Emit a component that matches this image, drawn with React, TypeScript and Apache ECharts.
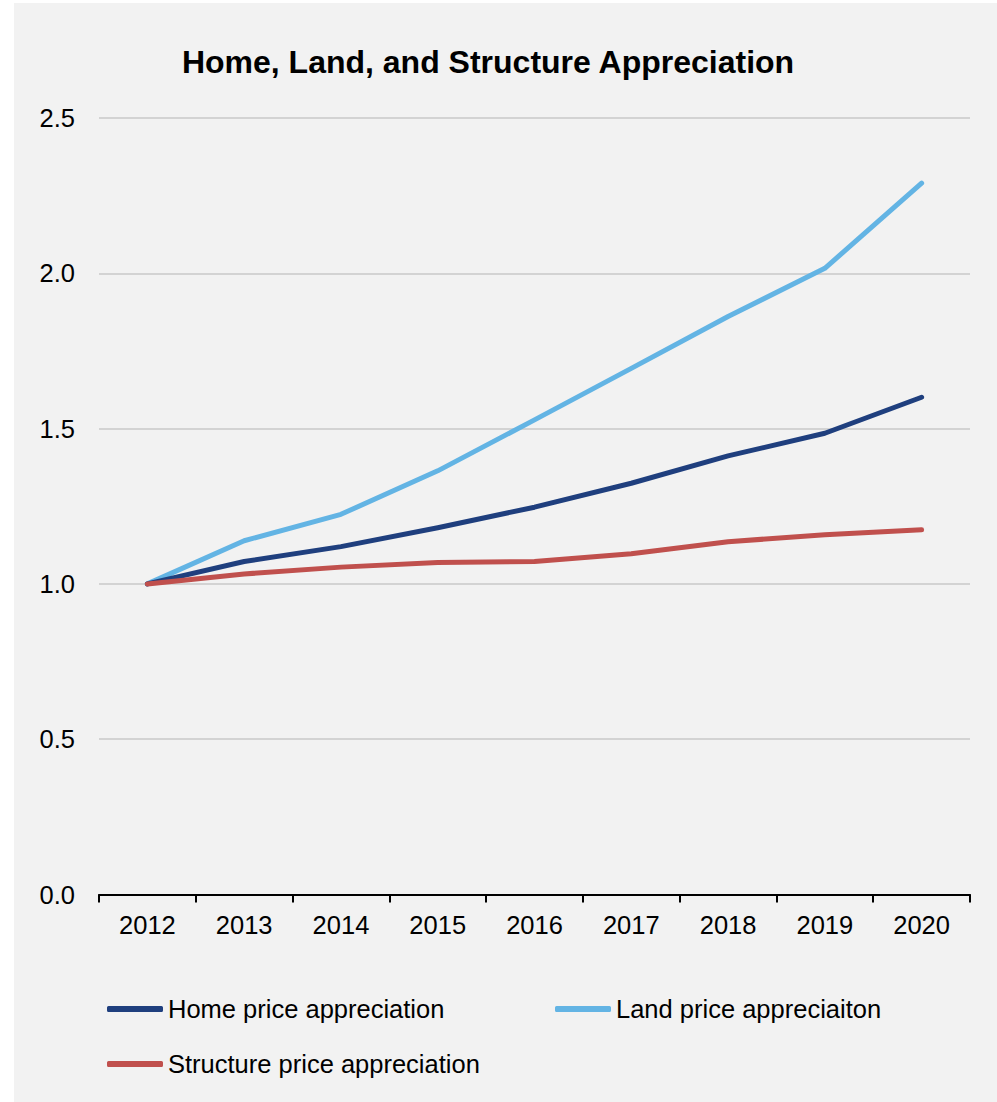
import React, { useEffect, useRef } from "react";
import * as echarts from "echarts";

const years = ["2012", "2013", "2014", "2015", "2016", "2017", "2018", "2019", "2020"];
const homePrice = [1.0, 1.072, 1.12, 1.181, 1.247, 1.324, 1.412, 1.485, 1.601];
const landPrice = [1.0, 1.139, 1.224, 1.364, 1.528, 1.694, 1.861, 2.016, 2.29];
const structurePrice = [1.0, 1.032, 1.054, 1.069, 1.072, 1.097, 1.136, 1.158, 1.174];
const seriesNames = ["Home price appreciation", "Land price appreciaiton", "Structure price appreciation"];
const titleText = "Home, Land, and Structure Appreciation";

const FONT = "'Liberation Sans', Arial, Helvetica, sans-serif";
const HOME_COLOR = "#1F3F7E";
const LAND_COLOR = "#63B4E4";
const STRUCT_COLOR = "#C0504D";

export default function App() {
  const ref = useRef<HTMLDivElement>(null);
  useEffect(() => {
    document.body.style.margin = "0";
    if (!ref.current) return;
    const chart = echarts.init(ref.current, undefined, { renderer: "svg" });
    const legendText = { fontFamily: FONT, fontSize: 25.5, color: "#000" };
    const mkSeries = (name: string, data: number[], color: string, z: number) => ({
      name,
      type: "line",
      data,
      symbol: "none",
      z,
      lineStyle: { color, width: 5, cap: "round", join: "round" },
      itemStyle: { color },
    });
    const legendBase = {
      icon: "roundRect",
      itemWidth: 56,
      itemHeight: 6,
      padding: 0,
      textStyle: legendText,
    };
    chart.setOption({
      animation: false,
      backgroundColor: "#ffffff",
      textStyle: { fontFamily: FONT },
      graphic: [
        {
          type: "rect",
          z: -10,
          silent: true,
          shape: { x: 14, y: 3, width: 997 - 14, height: 1102 - 3 },
          style: { fill: "#F2F2F2" },
        },
      ],
      title: {
        text: titleText,
        left: 488,
        top: 46,
        padding: 0,
        textAlign: "center",
        textStyle: { fontFamily: FONT, fontSize: 32, fontWeight: "bold", color: "#000" },
      },
      legend: [
        { ...legendBase, data: [seriesNames[0]], left: 107, top: 996 },
        { ...legendBase, data: [seriesNames[1]], left: 555, top: 996 },
        { ...legendBase, data: [seriesNames[2]], left: 107, top: 1051 },
      ],
      grid: { left: 99, right: 27, top: 118, bottom: 1102 - 894.5 },
      xAxis: {
        type: "category",
        data: years,
        boundaryGap: true,
        axisLine: { show: true, lineStyle: { color: "#000", width: 2 } },
        axisTick: { show: true, length: 8, inside: false, alignWithLabel: false, lineStyle: { color: "#000", width: 2 } },
        axisLabel: { fontFamily: FONT, fontSize: 25.5, color: "#000", margin: 17 },
        splitLine: { show: false },
      },
      yAxis: {
        type: "value",
        min: 0,
        max: 2.5,
        interval: 0.5,
        axisLine: { show: false },
        axisTick: { show: false },
        axisLabel: {
          fontFamily: FONT,
          fontSize: 25.5,
          color: "#000",
          margin: 24,
          formatter: (v: number) => v.toFixed(1),
        },
        splitLine: { show: true, lineStyle: { color: "#C8C8C8", width: 1.5 } },
      },
      series: [
        mkSeries(seriesNames[0], homePrice, HOME_COLOR, 3),
        mkSeries(seriesNames[1], landPrice, LAND_COLOR, 2),
        mkSeries(seriesNames[2], structurePrice, STRUCT_COLOR, 4),
      ],
    });
    return () => chart.dispose();
  }, []);
  return <div ref={ref} style={{ width: 997, height: 1102 }} />;
}
